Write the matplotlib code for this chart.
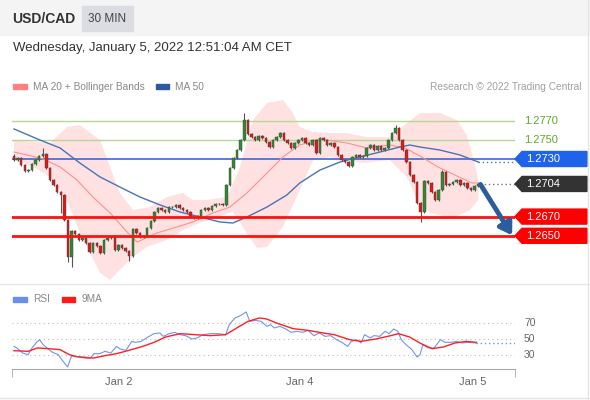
import numpy as np
import matplotlib.pyplot as plt
from matplotlib.patches import Rectangle, Polygon
from matplotlib.transforms import blended_transform_factory

plt.rcParams['font.family'] = ['Liberation Sans', 'DejaVu Sans']

# 30 min candles, closes (open = previous close)
closes = [
    1.27290, 1.27310, 1.27238, 1.27175, 1.27185, 1.27248, 1.27290, 1.27331, 1.27352, 1.27206,
    1.27081, 1.27029, 1.26956, 1.26925, 1.26665, 1.26279, 1.26550, 1.26519, 1.26456, 1.26477,
    1.26425, 1.26331, 1.26425, 1.26394, 1.26321, 1.26456, 1.26477, 1.26488, 1.26352, 1.26404,
    1.26373, 1.26342, 1.26290, 1.26571, 1.26529, 1.26488, 1.26498, 1.26581, 1.26654, 1.26748,
    1.26790, 1.26769, 1.26748, 1.26800, 1.26800, 1.26821, 1.26790, 1.26769, 1.26748, 1.26696,
    1.26685, 1.26706, 1.26769, 1.26790, 1.26769, 1.26810, 1.26831, 1.26831, 1.26821, 1.27029,
    1.27206, 1.27310, 1.27394, 1.27498, 1.27706, 1.27560, 1.27529, 1.27498, 1.27540, 1.27519,
    1.27477, 1.27425, 1.27498, 1.27529, 1.27571, 1.27498, 1.27467, 1.27415, 1.27467, 1.27498,
    1.27519, 1.27467, 1.27446, 1.27498, 1.27363, 1.27519, 1.27498, 1.27446, 1.27467, 1.27425,
    1.27342, 1.27290, 1.27269, 1.27227, 1.27321, 1.27342, 1.27321, 1.27331, 1.27415, 1.27446,
    1.27394, 1.27435, 1.27394, 1.27415, 1.27498, 1.27571, 1.27623, 1.27498, 1.27394, 1.27269,
    1.27133, 1.27060, 1.26842, 1.26748, 1.27071, 1.27050, 1.26956, 1.26873, 1.26977, 1.27165,
    1.27029, 1.27040, 1.27060, 1.27081, 1.27029, 1.27050, 1.26998, 1.26977, 1.27019, 1.27040,
]
first_open = 1.27335
wick = 0.00015
high_override = {8: 1.27415, 64: 1.27779, 106: 1.27654, 119: 1.27185}
low_override = {13: 1.26740, 15: 1.26227, 16: 1.26175, 32: 1.26240, 113: 1.26644}

ma20_x = [0, 3.6, 8.1, 12.8, 17.5, 21.9, 26.7, 31.4, 34.2, 39.7, 45.3, 49.7, 55.3, 60, 64.7,
          70.3, 74.7, 79.4, 85, 92.5, 98, 104.4, 108.6, 113.3, 117.8, 122.5, 127.2, 129]
ma20_y = [1.27373, 1.27342, 1.27300, 1.27217, 1.27081, 1.26904, 1.26738, 1.26540, 1.26435,
          1.26529, 1.26592, 1.26644, 1.26738, 1.26800, 1.26946, 1.27154, 1.27321, 1.27446,
          1.27508, 1.27467, 1.27415, 1.27446, 1.27415, 1.27321, 1.27217, 1.27133, 1.27050, 1.27050]

ma50_x = [0, 7.2, 12.8, 18.3, 23.9, 29.4, 35, 40.6, 46.1, 51.7, 57.2, 60.8, 64.7, 70.3, 75.8,
          79.4, 85, 90.6, 96.1, 101.7, 107.2, 110, 112.8, 118.3, 123.9, 129]
ma50_y = [1.27613, 1.27498, 1.27415, 1.27258, 1.27113, 1.27008, 1.26904, 1.26821, 1.26748,
          1.26696, 1.26644, 1.26633, 1.26696, 1.26800, 1.26925, 1.27050, 1.27185, 1.27269,
          1.27321, 1.27373, 1.27425, 1.27446, 1.27425, 1.27394, 1.27342, 1.27269]

bb_up_x = [0, 10, 14.7, 18.3, 23.9, 26.7, 29.4, 33.1, 37.8, 42.5, 46.9, 49.7, 53.6, 59.2, 62.8,
           66.4, 70.3, 74.7, 77.5, 79.4, 83.1, 87.8, 92.5, 98, 104.4, 109.2, 112.8, 118.3,
           123.1, 125.8, 128.1, 129]
bb_up_y = [1.27498, 1.27467, 1.27633, 1.27654, 1.27498, 1.27217, 1.26946, 1.26769, 1.26800,
           1.26904, 1.26946, 1.26873, 1.26873, 1.26904, 1.27217, 1.27706, 1.27883, 1.27915,
           1.27779, 1.27633, 1.27581, 1.27571, 1.27571, 1.27529, 1.27529, 1.27675, 1.27779,
           1.27779, 1.27706, 1.27550, 1.27238, 1.27081]
bb_lo_x = [0, 5.3, 10, 14.7, 18.3, 21.1, 23.9, 26.7, 29.4, 33.1, 36.9, 42.5, 46.9, 51.7, 56.4,
           60.8, 64.7, 67.5, 70.3, 74.7, 79.4, 83.1, 87.8, 92.5, 96.9, 104.4, 109.2, 111.9,
           115.6, 122, 126.7, 129]
bb_lo_y = [1.27290, 1.27217, 1.27113, 1.26873, 1.26529, 1.26321, 1.26113, 1.26040, 1.26144,
           1.26279, 1.26383, 1.26456, 1.26560, 1.26633, 1.26696, 1.26748, 1.26529, 1.26373,
           1.26383, 1.26592, 1.26977, 1.27290, 1.27321, 1.27290, 1.27258, 1.27290, 1.27113,
           1.26873, 1.26738, 1.26685, 1.26769, 1.26873]

rsi_x = [0, 0.8, 2.4, 3.9, 5.0, 6.5, 7.1, 8.1, 9.7, 10.7, 12.3, 13.3, 14.9, 16.0, 17.0, 18.6,
         20.1, 21.2, 22.2, 23.8, 25.3, 26.9, 28.5, 29.5, 31.1, 32.7, 33.7, 35.3, 36.8, 38.9,
         40.5, 41.5, 43.1, 44.7, 46.2, 47.8, 49.4, 50.9, 52.5, 54.6, 56.7, 58.8, 59.8, 61.4,
         62.9, 64.5, 65.5, 67.1, 68.7, 70.2, 71.3, 72.3, 73.9, 75.5, 77.0, 78.6, 80.2, 81.7,
         83.3, 84.9, 86.4, 88.0, 89.6, 91.1, 92.7, 93.7, 95.3, 96.4, 97.4, 99.0, 100.0, 101.6,
         103.1, 104.2, 105.5, 106.6, 107.6, 108.9, 110.4, 112.0, 112.8, 113.6, 115.1, 116.7,
         118.5, 119.8, 121.4, 123.0, 124.5, 126.1, 128.5]
rsi_y = [40.8, 38.7, 32.5, 30.4, 38.8, 47, 49, 43, 36.7, 33.3, 30.4, 24, 15, 29, 28, 27.5,
         27.5, 26, 31.7, 31.7, 34.6, 32.5, 40.8, 37.5, 35.8, 47, 45.8, 47, 51.3, 56.7,
         57.5, 53.3, 56.7, 58.3, 55.4, 54, 50, 51.3, 55.4, 56.7, 56.7, 55.4, 67.9, 76.3,
         79.2, 83.8, 72, 73.3, 72, 65.8, 67.9, 63.8, 65.8, 62.5, 58.3, 59.6, 58.3, 60.8,
         54.2, 57.5, 53.3, 54.2, 49.2, 45.8, 40.8, 47, 49.2, 45, 55.4, 51.3, 54.2, 53.3,
         59.6, 56.7, 62.5, 59.6, 49.2, 42.9, 37.5, 27.5, 30.4, 42.9, 38.8, 38.8,
         49.2, 45.8, 45.8, 47, 45, 45.8, 45]
rsi_ma_x = [0, 3.9, 6.5, 9.7, 12.8, 15.4, 17.0, 20.1, 22.2, 25.3, 28.5, 31.6, 35.8, 38.9, 42.1,
            46.2, 50.4, 54.6, 58.8, 61.9, 65.0, 68.2, 70.2, 73.4, 77.6, 81.7, 85.9, 89.0, 93.2,
            96.4, 100.5, 104.7, 106.8, 109.9, 113.1, 116.2, 119.3, 122.5, 125.6, 128.5]
rsi_ma_y = [35.4, 34.6, 38.8, 37.9, 36.7, 30.4, 28.3, 26.3, 26.3, 29.2, 31.7, 35.4, 40.8, 45.8,
            52.5, 56.7, 55.4, 54.2, 55.4, 63.8, 72, 76.3, 75, 69.2, 62.9, 60.8, 57.5, 55.4, 49.2,
            47, 50, 54.2, 56.7, 52.5, 44.2, 37.9, 40, 45, 47, 45.8]

green_levels = [1.2770, 1.2750]
blue_level = 1.2730
last_price = 1.2704
red_levels = [1.2670, 1.2650]
rsi_levels = [70, 50, 30]
tick_pos = [29, 79.5, 127.5]
tick_labels = ['Jan 2', 'Jan 4', 'Jan 5']

W, H = 590, 400
fig = plt.figure(figsize=(W / 100, H / 100), dpi=100)


def fx(px):
    return px / W


def fy(py):
    return 1 - py / H


# frame, header
fig.patches.append(Rectangle((0, fy(35)), 1, 35 / H, transform=fig.transFigure,
                             color='#f4f4f4', zorder=0))
fig.patches.append(Rectangle((fx(82), fy(31)), 51 / W, 25 / H, transform=fig.transFigure,
                             color='#dcdde2', zorder=1))
fig.add_artist(plt.Line2D([0, 1], [fy(284)] * 2, color='#e8e8e8', lw=1))
fig.add_artist(plt.Line2D([fx(588)] * 2, [0, 1], color='#e4e4e4', lw=1))
fig.add_artist(plt.Line2D([0, 1], [fy(398)] * 2, color='#e4e4e4', lw=1))
fig.text(fx(12), fy(19), 'USD/CAD', fontsize=10, fontweight='bold', color='#333333', va='center')
fig.text(fx(107.5), fy(19), '30 MIN', fontsize=8.5, color='#444444', va='center', ha='center')
fig.text(fx(13), fy(48), 'Wednesday, January 5, 2022 12:51:04 AM CET', fontsize=9.5,
         color='#333333', va='center')

# legends
fig.patches.append(Rectangle((fx(13), fy(89)), 14 / W, 5 / H, transform=fig.transFigure,
                             color='#ff8080'))
fig.text(fx(33), fy(86.5), 'MA 20 + Bollinger Bands', fontsize=7.3, color='#888888', va='center')
fig.patches.append(Rectangle((fx(156), fy(89)), 13 / W, 5 / H, transform=fig.transFigure,
                             color='#2b5aa0'))
fig.text(fx(175), fy(86.5), 'MA 50', fontsize=7.3, color='#888888', va='center')
fig.text(fx(581), fy(86.5), 'Research © 2022 Trading Central', fontsize=7.3, color='#a0a0a0',
         va='center', ha='right')
fig.patches.append(Rectangle((fx(13), fy(302)), 14 / W, 5 / H, transform=fig.transFigure,
                             color='#6a8fe6'))
fig.text(fx(33), fy(299.5), 'RSI', fontsize=7.3, color='#888888', va='center')
fig.patches.append(Rectangle((fx(62), fy(302)), 13 / W, 5 / H, transform=fig.transFigure,
                             color='#ff1a1a'))
fig.text(fx(81), fy(299.5), '9MA', fontsize=7.3, color='#888888', va='center')

xlim = (-0.56, 139.2)

# price panel
ax = fig.add_axes([fx(12), fy(283), fx(515) - fx(12), (283 - 95) / H])
ax.set_xlim(*xlim)
ax.set_ylim(1.26008, 1.27967)
ax.axis('off')

ax.fill(bb_up_x + bb_lo_x[::-1], bb_up_y + bb_lo_y[::-1], color='#ffe1e1', lw=0, zorder=1)
for lv in green_levels:
    ax.axhline(lv, color='#b3d994', lw=1, zorder=2)
ax.axhline(blue_level, color='#2a5bd7', lw=1.1, zorder=2)
ax.plot(ma20_x, ma20_y, color='#ff8f8f', lw=0.8, zorder=3)
ax.plot(ma50_x, ma50_y, color='#4a72b8', lw=1, zorder=3)
ax.plot([ma50_x[-1], xlim[1]], [ma50_y[-1]] * 2, color='#4a72b8', lw=1, ls=(0, (1, 2)), zorder=3)

c = np.array(closes)
o = np.concatenate([[first_open], c[:-1]])
idx = np.arange(len(c))
hi = np.maximum(o, c) + wick
lo = np.minimum(o, c) - wick
for k, v in high_override.items():
    hi[k] = v
for k, v in low_override.items():
    lo[k] = v
cols = np.where(c >= o, '#2f8a2f', '#e01818')
ax.vlines(idx, lo, hi, color='#555555', lw=0.8, zorder=4)
ax.bar(idx, np.maximum(np.abs(c - o), 0.00004), bottom=np.minimum(o, c), width=0.7,
       color=cols, edgecolor='#444444', linewidth=0.3, zorder=5)

for lv in red_levels:
    ax.axhline(lv, color='#ff1010', lw=2, zorder=6)
ax.plot([idx[-1] + 0.6, xlim[1]], [last_price] * 2, color='#777777', lw=1, ls=(0, (1, 2)), zorder=6)

ax.annotate('', xy=(138.4, 1.26505), xytext=(129.6, 1.27035),
            arrowprops=dict(arrowstyle='-|>,head_length=0.7,head_width=0.45', lw=3.5,
                            color='#2c5c9c', shrinkA=0, shrinkB=0), zorder=7)

trans = blended_transform_factory(fig.transFigure, ax.transData)
hh = 7.5 / 9600


def price_box(p, color):
    pts = [(fx(515), p), (fx(522), p + hh), (fx(587), p + hh), (fx(587), p - hh), (fx(522), p - hh)]
    ax.add_patch(Polygon(pts, closed=True, transform=trans, color=color, clip_on=False, zorder=8))
    ax.text(fx(526), p, f'{p:.4f}', transform=trans, color='white', fontsize=8, va='center',
            clip_on=False, zorder=9)


for lv in green_levels:
    ax.text(fx(524), lv, f'{lv:.4f}', transform=trans, color='#5ea82a', fontsize=8,
            va='center', clip_on=False)
price_box(blue_level, '#1e63e9')
price_box(last_price, '#333333')
for lv in red_levels:
    price_box(lv, '#ff0000')

# RSI panel
rax = fig.add_axes([fx(12), fy(369), fx(515) - fx(12), (369 - 290) / H])
rax.set_xlim(*xlim)
rax.set_ylim(12.5, 111.25)
for s in ['top', 'right', 'left']:
    rax.spines[s].set_visible(False)
rax.spines['bottom'].set_color('#a8a8a8')
rax.set_yticks([])
rax.set_xticks(tick_pos, tick_labels)
rax.set_xticks(list(xlim), minor=True)
rax.tick_params(axis='x', which='major', length=0, pad=6, labelsize=8, labelcolor='#666666')
rax.tick_params(axis='x', which='minor', length=6, color='#a8a8a8')
rtrans = blended_transform_factory(fig.transFigure, rax.transData)
for lv in rsi_levels:
    rax.axhline(lv, color='#bbbbbb', lw=0.8, ls=(0, (1, 3)))
    rax.text(fx(524), lv, str(lv), transform=rtrans, color='#666666', fontsize=7.5,
             va='center', clip_on=False)
rax.plot(rsi_x, rsi_y, color='#7393ea', lw=0.8)
rax.plot(rsi_ma_x, rsi_ma_y, color='#ff2020', lw=1)
rax.plot([rsi_x[-1], xlim[1]], [rsi_y[-1]] * 2, color='#7393ea', lw=1, ls=(0, (1, 2)))

fig.savefig('out.png', dpi=100)
